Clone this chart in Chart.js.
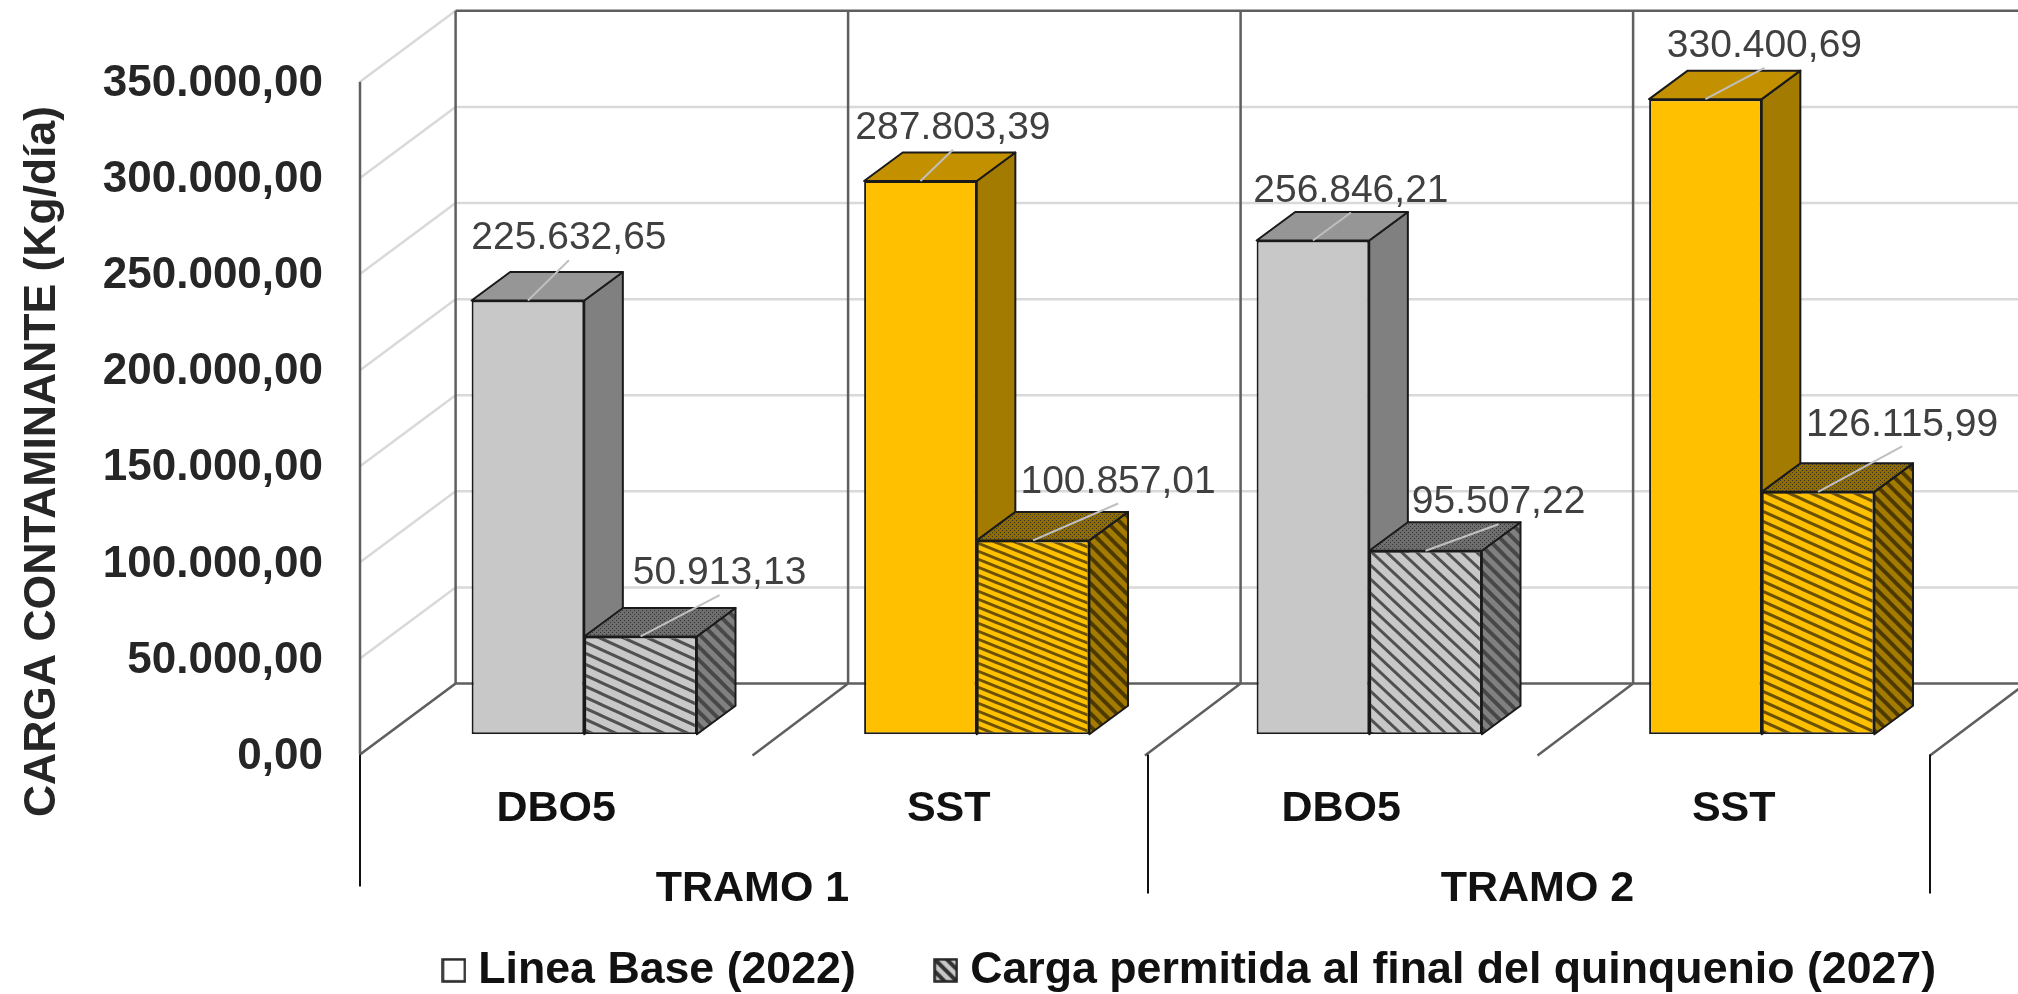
<!DOCTYPE html>
<html>
<head>
<meta charset="utf-8">
<title>Carga contaminante</title>
<script src="https://cdn.jsdelivr.net/npm/chart.js@4/dist/chart.umd.min.js"></script>
<style>
  html, body { margin: 0; padding: 0; background: #fff; }
  canvas { display: block; }
</style>
</head>
<body>
<canvas id="chart" width="2018" height="994"></canvas>
<script>
/* chart values */
var categories = ['DBO5', 'SST', 'DBO5', 'SST'];
var tramos = ['TRAMO 1', 'TRAMO 2'];
var lineaBase = [225632.65, 287803.39, 256846.21, 330400.69];
var cargaPermitida = [50913.13, 100857.01, 95507.22, 126115.99];
var seriesNames = ['Linea Base (2022)', 'Carga permitida al final del quinquenio (2027)'];
var yAxisTitle = 'CARGA CONTAMINANTE (Kg/día)';

/* where the bars sit inside the fake 3D box, in pixels from the bar plane */
var FRONT = { x: -28, y: 20.3 };
var BACK = { x: 67.6, y: -50.7 };
var BAR_DEPTH = { x: 38.6, y: -28.5 };

/* data labels were moved by hand in the original, one shift per bar */
var labelShift = [
  [[41, -65], [32.5, -56], [38, -52.6], [59, -56]],
  [[79, -66], [85, -61.5], [73, -51], [84, -70]]
];

var GRAY = { face: '#c8c8c8', side: '#808080', top: '#969696', ink: '#505050', sideInk: '#484848', topHatch: '#6e6e6e' };
var GOLD = { face: '#ffc000', side: '#a37b00', top: '#c39100', ink: '#6b5100', sideInk: '#4e3a00', topHatch: '#8f6b00' };
var barColors = [GRAY, GOLD, GRAY, GOLD];

/* the hatch comes out differently on each bar of the original */
var hatchSizes = [[24, 11], [20, 8], [15, 14], [22, 10]];

var fmt = new Intl.NumberFormat('de-DE', { minimumFractionDigits: 2, maximumFractionDigits: 2 });

function makeHatch(base, ink, w, h, lineWidth) {
  var c = document.createElement('canvas');
  c.width = w;
  c.height = h;
  var g = c.getContext('2d');
  g.fillStyle = base;
  g.fillRect(0, 0, w, h);
  g.strokeStyle = ink;
  g.lineWidth = lineWidth;
  for (var i = -1; i <= 1; i++) {
    g.beginPath();
    g.moveTo(i * w - w, -h);
    g.lineTo(i * w + 2 * w, 2 * h);
    g.stroke();
  }
  return g.createPattern(c, 'repeat');
}

function makeStipple(base, ink) {
  var c = document.createElement('canvas');
  c.width = 4;
  c.height = 4;
  var g = c.getContext('2d');
  g.fillStyle = base;
  g.fillRect(0, 0, 4, 4);
  g.fillStyle = ink;
  g.fillRect(0, 0, 1, 1);
  g.fillRect(2, 2, 1, 1);
  return g.createPattern(c, 'repeat');
}

function legendBox(fill) {
  var c = document.createElement('canvas');
  c.width = 25;
  c.height = 25;
  var g = c.getContext('2d');
  g.fillStyle = fill;
  g.fillRect(1, 1, 23, 23);
  g.strokeStyle = '#262626';
  g.lineWidth = 2.5;
  g.strokeRect(1.5, 1.5, 22, 22);
  return c;
}

var hatchFaces = barColors.map(function (col, i) {
  return makeHatch(col.face, col.ink, hatchSizes[i][0], hatchSizes[i][1], 3);
});
var hatchSides = barColors.map(function (col) {
  return makeHatch(col.side, col.sideInk, 13, 13, 4);
});
var hatchTops = barColors.map(function (col) {
  return makeStipple(col.topHatch, '#333333');
});

/* box walls, floor and grid, all hung off the library scales */
var wallsPlugin = {
  id: 'walls',
  beforeDatasetsDraw: function (chart) {
    var ctx = chart.ctx, x = chart.scales.x, y = chart.scales.y;
    var step = (x.right - x.left) / categories.length;
    var wallRight = chart.width;
    ctx.save();

    ctx.strokeStyle = '#d9d9d9';
    ctx.lineWidth = 2.5;
    y.ticks.forEach(function (t) {
      var py = y.getPixelForValue(t.value);
      ctx.beginPath();
      ctx.moveTo(x.left + FRONT.x, py + FRONT.y);
      ctx.lineTo(x.left + BACK.x, py + BACK.y);
      if (t.value > 0 && t.value < y.max) {
        ctx.lineTo(wallRight, py + BACK.y);
      }
      ctx.stroke();
    });

    var floorFront = y.getPixelForValue(0) + FRONT.y;
    var floorBack = y.getPixelForValue(0) + BACK.y;
    var wallTop = y.getPixelForValue(y.max) + BACK.y;

    ctx.strokeStyle = '#5f5f5f';
    ctx.lineWidth = 2.5;
    ctx.beginPath();
    ctx.moveTo(x.left + BACK.x, wallTop);
    ctx.lineTo(wallRight, wallTop);
    ctx.moveTo(x.left + BACK.x, floorBack);
    ctx.lineTo(wallRight, floorBack);
    for (var i = 0; i <= categories.length; i++) {
      var bx = x.left + i * step;
      if (i < categories.length) {
        ctx.moveTo(bx + BACK.x, wallTop);
        ctx.lineTo(bx + BACK.x, floorBack);
      }
      ctx.moveTo(bx + FRONT.x, floorFront + (i === 0 ? 0 : 1));
      ctx.lineTo(bx + BACK.x, floorBack);
    }
    ctx.moveTo(x.left + FRONT.x, y.getPixelForValue(y.max) + FRONT.y);
    ctx.lineTo(x.left + FRONT.x, floorFront);
    ctx.stroke();

    /* separators of the two tramos under the floor */
    ctx.strokeStyle = '#111111';
    ctx.lineWidth = 2;
    ctx.beginPath();
    [0, 2, 4].forEach(function (i) {
      var sx = x.left + i * step + FRONT.x + (i === 2 ? 3 : 0);
      ctx.moveTo(sx, floorFront);
      ctx.lineTo(sx, floorFront + (i === 0 ? 132 : 139));
    });
    ctx.stroke();

    /* sides and tops of the bars */
    chart.data.datasets.forEach(function (ds, d) {
      chart.getDatasetMeta(d).data.forEach(function (bar, i) {
        var col = barColors[i];
        var left = bar.x - bar.width / 2, right = bar.x + bar.width / 2;
        var top = bar.y, base = bar.base;
        ctx.strokeStyle = '#1a1a1a';
        ctx.lineWidth = 2;
        ctx.lineJoin = 'round';

        ctx.fillStyle = d === 0 ? col.side : hatchSides[i];
        ctx.beginPath();
        ctx.moveTo(right, top);
        ctx.lineTo(right + BAR_DEPTH.x, top + BAR_DEPTH.y);
        ctx.lineTo(right + BAR_DEPTH.x, base + BAR_DEPTH.y);
        ctx.lineTo(right, base);
        ctx.closePath();
        ctx.fill();
        ctx.stroke();

        ctx.fillStyle = d === 0 ? col.top : hatchTops[i];
        ctx.beginPath();
        ctx.moveTo(left, top);
        ctx.lineTo(left + BAR_DEPTH.x, top + BAR_DEPTH.y);
        ctx.lineTo(right + BAR_DEPTH.x, top + BAR_DEPTH.y);
        ctx.lineTo(right, top);
        ctx.closePath();
        ctx.fill();
        ctx.stroke();
      });
    });
    ctx.restore();
  },

  /* value labels with their leader lines, and the axis title */
  afterDatasetsDraw: function (chart) {
    var ctx = chart.ctx;
    ctx.save();
    ctx.textAlign = 'center';
    ctx.textBaseline = 'middle';
    ctx.font = '39px "Liberation Sans"';
    chart.data.datasets.forEach(function (ds, d) {
      chart.getDatasetMeta(d).data.forEach(function (bar, i) {
        var lx = bar.x + labelShift[d][i][0];
        var ly = bar.y + labelShift[d][i][1];
        ctx.strokeStyle = '#bfbfbf';
        ctx.lineWidth = 2;
        ctx.beginPath();
        ctx.moveTo(bar.x, bar.y);
        ctx.lineTo(lx, ly + 24.6);
        ctx.stroke();
        ctx.fillStyle = '#404040';
        ctx.fillText(fmt.format(ds.data[i]), lx, ly + 3);
      });
    });

    ctx.translate(43, 461.5);
    ctx.rotate(-Math.PI / 2);
    ctx.font = 'bold 44.5px "Liberation Sans"';
    ctx.fillStyle = '#262626';
    ctx.fillText(yAxisTitle, 0, 0);
    ctx.restore();
  }
};

/* legend is not centred on the page in the original, push it over.
   Only the top moves up so the clip box still reaches the items */
var legendShiftPlugin = {
  id: 'legendShift',
  afterLayout: function (chart) {
    chart.legend.left += 215;
    chart.legend.right += 215;
    chart.legend.top -= 74;
  }
};

var boldTick = { family: '"Liberation Sans"', size: 44, weight: 'bold' };

new Chart(document.getElementById('chart').getContext('2d'), {
  type: 'bar',
  data: {
    labels: categories,
    datasets: [{
      label: seriesNames[0],
      data: lineaBase,
      backgroundColor: barColors.map(function (c) { return c.face; }),
      borderColor: '#1a1a1a',
      borderWidth: 2,
      borderSkipped: false,
      categoryPercentage: 0.574,
      barPercentage: 1
    }, {
      label: seriesNames[1],
      data: cargaPermitida,
      backgroundColor: hatchFaces,
      borderColor: '#1a1a1a',
      borderWidth: 2,
      borderSkipped: false,
      categoryPercentage: 0.574,
      barPercentage: 1
    }]
  },
  options: {
    responsive: false,
    animation: false,
    layout: { autoPadding: false, padding: { top: 61.5, right: 60, bottom: 0, left: 0 } },
    scales: {
      y: {
        min: 0,
        max: 350000,
        grid: { display: false },
        border: { display: false },
        afterFit: function (s) {
          s.width = 388;
          /* tick padding leaks into the layout otherwise */
          s.paddingTop = 0;
          s.paddingBottom = 0;
        },
        ticks: {
          stepSize: 50000,
          padding: 57,
          labelOffset: FRONT.y + 2,
          color: '#262626',
          font: boldTick,
          callback: function (v) { return fmt.format(v); }
        }
      },
      x: {
        grid: { display: false },
        border: { display: false },
        afterFit: function (s) { s.height = 100; },
        ticks: {
          padding: 41,
          labelOffset: FRONT.x,
          maxRotation: 0,
          color: '#111111',
          font: { family: '"Liberation Sans"', size: 43, weight: 'bold' }
        }
      },
      x2: {
        type: 'category',
        labels: tramos,
        position: 'bottom',
        offset: true,
        grid: { display: false },
        border: { display: false },
        afterFit: function (s) { s.height = 99.7; },
        ticks: {
          padding: 21,
          labelOffset: FRONT.x,
          maxRotation: 0,
          color: '#111111',
          font: { family: '"Liberation Sans"', size: 43, weight: 'bold' }
        }
      }
    },
    plugins: {
      title: { display: false },
      tooltip: { enabled: false },
      legend: {
        position: 'bottom',
        maxHeight: 60,
        labels: {
          usePointStyle: true,
          pointStyleWidth: 4,
          padding: 88,
          color: '#111111',
          font: { family: '"Liberation Sans"', size: 44.7, weight: 'bold' },
          generateLabels: function () {
            return [
              { text: seriesNames[0], pointStyle: legendBox('#ffffff'), datasetIndex: 0, fontColor: '#111111', lineWidth: 0, strokeStyle: 'rgba(0,0,0,0)' },
              { text: seriesNames[1], pointStyle: legendBox(makeHatch('#c8c8c8', '#333333', 12, 12, 4)), datasetIndex: 1, fontColor: '#111111', lineWidth: 0, strokeStyle: 'rgba(0,0,0,0)' }
            ];
          }
        }
      }
    }
  },
  plugins: [wallsPlugin, legendShiftPlugin]
});
</script>
</body>
</html>
